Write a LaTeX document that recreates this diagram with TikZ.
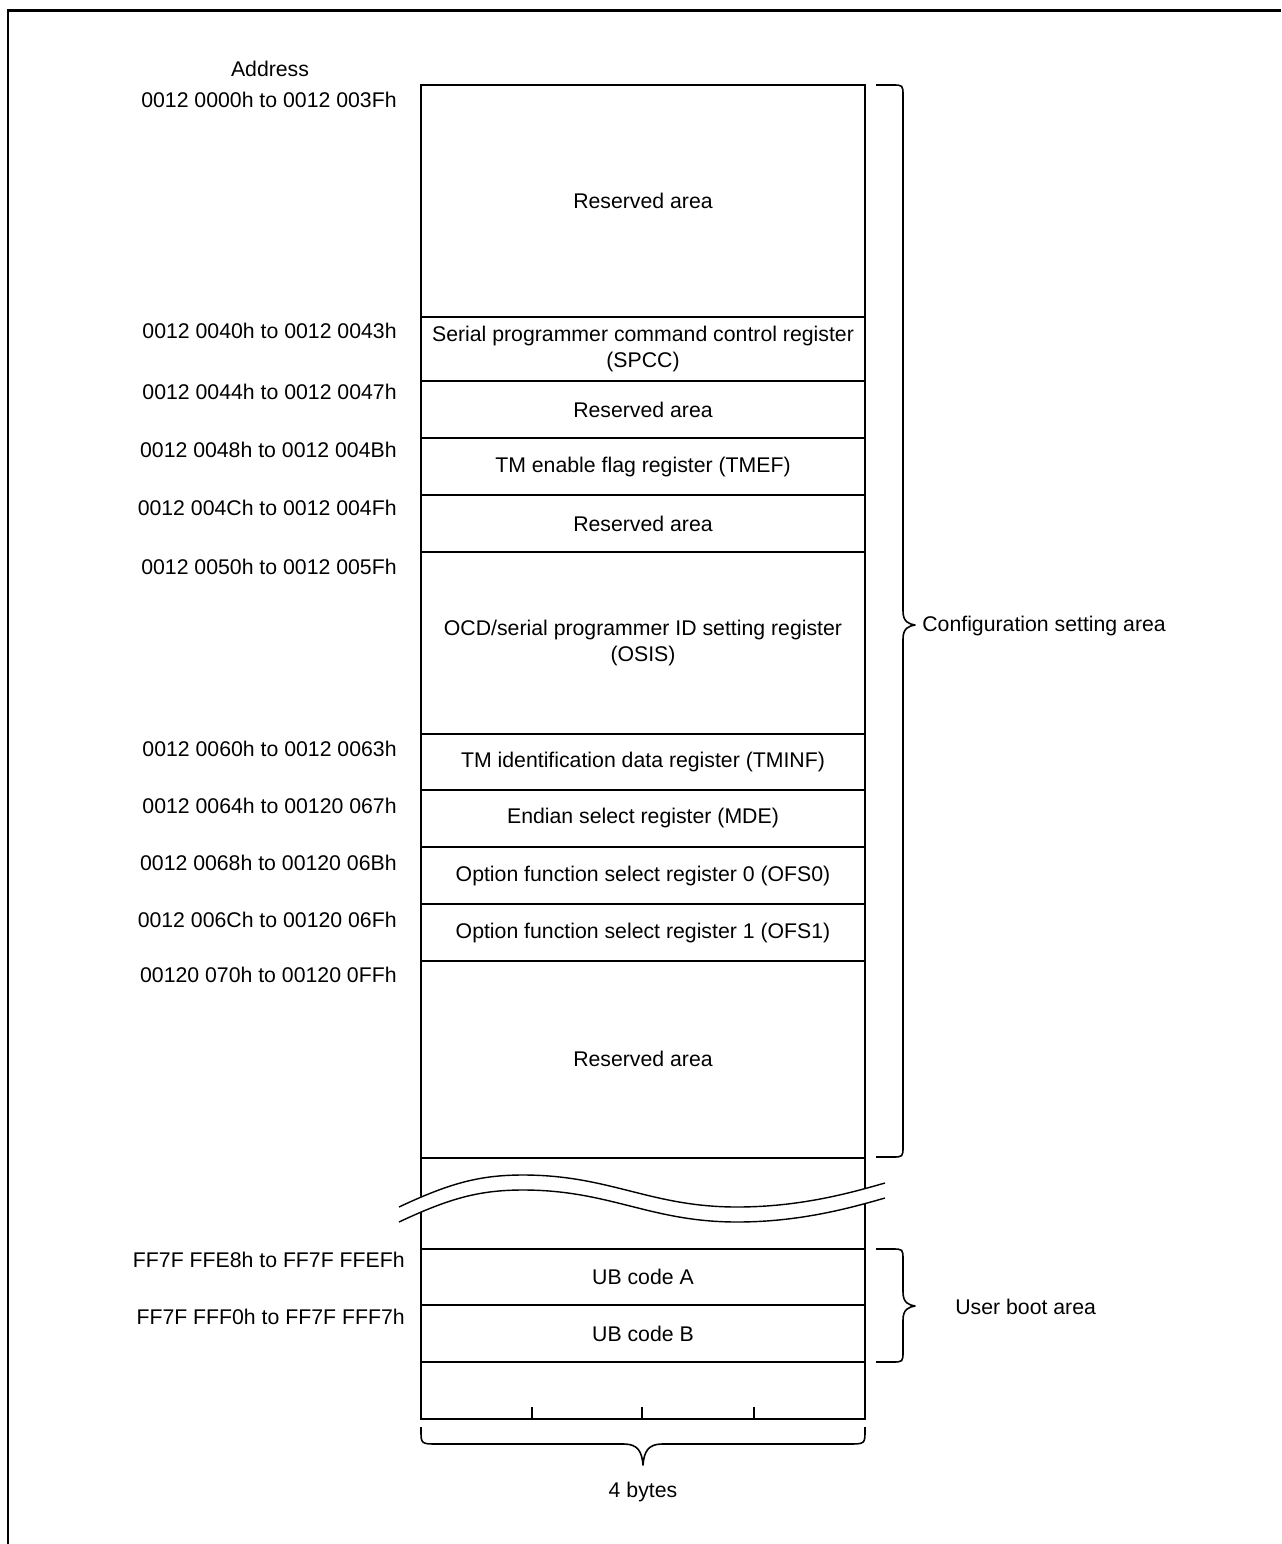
\documentclass[tikz,border=0pt]{standalone}
\usepackage{fontspec}
\setmainfont{Liberation Sans}
\usetikzlibrary{positioning}

\tikzset{
  addr/.style={anchor=east,inner sep=0pt},
  cell/.style={align=center,inner sep=0pt},
  maprule/.style={line width=1.1pt},
  areabrace/.style={line width=0.9pt,line join=round},
}
% right pointing brace: x of the ends, top, bottom, middle
\newcommand{\sidebrace}[4]{%
  \draw[areabrace] (#1,#2) -- (#1+16,#2) .. controls (#1+27,#2) .. (#1+27,#2+11)
    -- (#1+27,#4-14) .. controls (#1+27,#4-3) and (#1+33,#4-1) .. (#1+39,#4)
    .. controls (#1+33,#4+1) and (#1+27,#4+3) .. (#1+27,#4+14) -- (#1+27,#3-11)
    .. controls (#1+27,#3) .. (#1+16,#3) -- (#1,#3);}

\begin{document}
\begin{tikzpicture}[x=0.02cm,y=-0.02cm,font=\fontsize{12.1}{15}\selectfont]
  \useasboundingbox (0,0) rectangle (1281,1544);
  \draw[line width=0.06cm] (8,1544) -- (8,11) -- (1281,11);

  % memory map
  \draw[maprule] (421,85) rectangle (865,1419);
  \foreach \y in {317,381,438,495,552,734,790,847,904,961,1158,1249,1305,1362}
    \draw[maprule] (421,\y) -- (865,\y);
  \foreach \x in {532,642,754}
    \draw[maprule] (\x,1419) -- (\x,1407);

  % break in the map
  \draw[white,line width=0.28cm] (399,1214) .. controls (450,1190) and (480,1183) .. (523,1183)
    .. controls (610,1183) and (650,1214) .. (737,1214) .. controls (800,1214) and (850,1200) .. (885,1191);
  \foreach \s in {0,15}
    \draw[line width=0.8pt,yshift=-\s*0.02cm] (399,1207) .. controls (450,1183) and (480,1175) .. (523,1175)
      .. controls (610,1175) and (650,1207) .. (737,1207) .. controls (800,1207) and (850,1193) .. (885,1183);

  % cell contents
  \node[cell] (rsv0) at (643,201) {Reserved area};
  \node[cell] (spcc) at (643,349) {Serial programmer command control register\\(SPCC)};
  \node[cell] (rsv1) at (643,410) {Reserved area};
  \node[cell] (tmef) at (643,467) {TM enable flag register (TMEF)};
  \node[cell] (rsv2) at (643,524) {Reserved area};
  \node[cell] (osis) at (643,643) {OCD/serial programmer ID setting register\\(OSIS)};
  \node[cell] (tminf) at (643,762) {TM identification data register (TMINF)};
  \node[cell] (mde) at (643,818) {Endian select register (MDE)};
  \node[cell] (ofs0) at (643,876) {Option function select register 0 (OFS0)};
  \node[cell] (ofs1) at (643,933) {Option function select register 1 (OFS1)};
  \node[cell] (rsv3) at (643,1059) {Reserved area};
  \node[cell] (ubA) at (643,1277) {UB code A};
  \node[cell] (ubB) at (643,1334) {UB code B};

  % addresses
  \node (addrhead) at (270,69) {Address};
  \node[addr] (a0) at (397,100) {0012 0000h to 0012 003Fh};
  \node[addr] (a1) at (397,331) {0012 0040h to 0012 0043h};
  \node[addr] (a2) at (397,392) {0012 0044h to 0012 0047h};
  \node[addr] (a3) at (397,450) {0012 0048h to 0012 004Bh};
  \node[addr] (a4) at (397,508) {0012 004Ch to 0012 004Fh};
  \node[addr] (a5) at (397,567) {0012 0050h to 0012 005Fh};
  \node[addr] (a6) at (397,749) {0012 0060h to 0012 0063h};
  \node[addr] (a7) at (397,806) {0012 0064h to 00120 067h};
  \node[addr] (a8) at (397,863) {0012 0068h to 00120 06Bh};
  \node[addr] (a9) at (397,920) {0012 006Ch to 00120 06Fh};
  \node[addr] (a10) at (397,975) {00120 070h to 00120 0FFh};
  \node[addr] (a11) at (405,1260) {FF7F FFE8h to FF7F FFEFh};
  \node[addr] (a12) at (405,1317) {FF7F FFF0h to FF7F FFF7h};

  % areas
  \sidebrace{876}{85}{1157}{625}
  \node[anchor=west,inner sep=0pt] (cfg) at (922,626) {Configuration setting area};
  \sidebrace{876}{1249}{1362}{1306}
  \node[anchor=west,inner sep=0pt] (ubarea) at (955,1307) {User boot area};

  % width
  \draw[areabrace] (421,1427) -- (421,1430) .. controls (421,1444) .. (438,1444) -- (624,1444)
    .. controls (638,1444) and (642,1452) .. (643,1465) .. controls (644,1452) and (648,1444) .. (662,1444) -- (848,1444)
    .. controls (865,1444) .. (865,1430) -- (865,1427);
  \node (bytes) at (643,1492) {4 bytes};
\end{tikzpicture}
\end{document}
